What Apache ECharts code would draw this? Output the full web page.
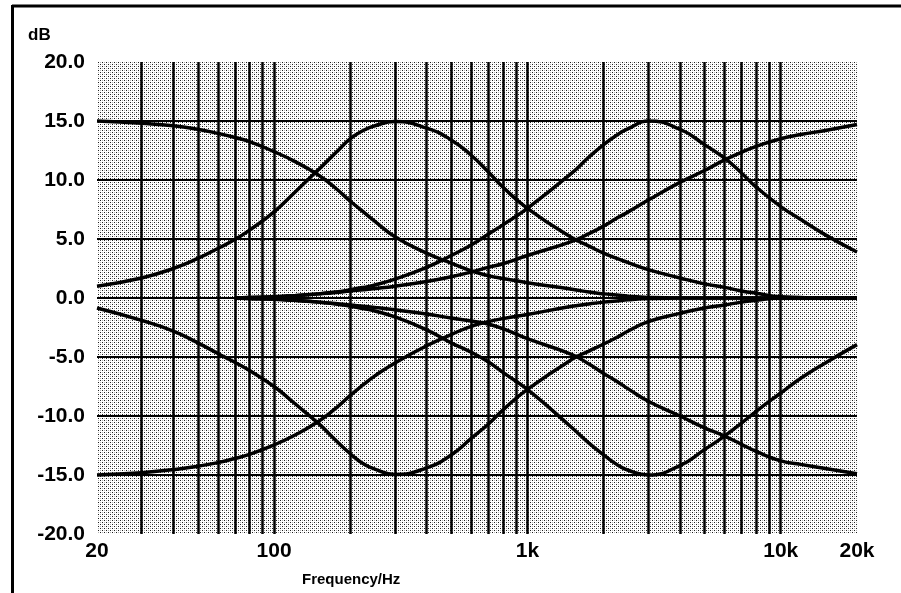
<!DOCTYPE html>
<html>
<head>
<meta charset="utf-8">
<script src="https://cdn.jsdelivr.net/npm/echarts@6/dist/echarts.min.js"></script>
<style>
  html, body { margin: 0; padding: 0; background: #fff; }
  #chart { width: 901px; height: 593px; }
</style>
</head>
<body>
<div id="chart"></div>
<script>
// sample frequencies (Hz) the curves were read at
const freqs = [20, 30, 40, 50, 60, 70, 80, 100, 120, 150, 175, 200, 225, 250, 300, 400, 500, 600, 700, 800,
  1000, 1500, 1750, 2000, 2250, 2500, 3000, 4000, 5000, 6000, 7000, 8000, 10000, 12000, 15000, 20000]

// boost curves (dB)
const lowShelfBoost = [15.0, 14.8, 14.6, 14.3, 13.95, 13.6, 13.25, 12.4, 11.6, 10.4, 9.3, 8.2, 7.3, 6.5, 5.2, 3.8, 2.95, 2.3, 1.9, 1.65,
  1.3, 0.75, 0.5, 0.35, 0.25, 0.15, 0.05, 0, 0, 0, 0, 0, 0, 0, 0, 0]
const peak300Boost = [1.0, 1.7, 2.5, 3.35, 4.2, 4.95, 5.75, 7.3, 8.9, 10.9, 12.3, 13.5, 14.2, 14.6, 14.95, 14.4, 13.4, 12.1, 10.7, 9.4,
  7.6, 5.1, 4.4, 3.8, 3.35, 3.0, 2.4, 1.7, 1.2, 0.9, 0.6, 0.4, 0.1, 0.05, 0, 0]
const highShelfBoost = [null, null, null, null, null, 0, 0.05, 0.1, 0.2, 0.35, 0.47, 0.6, 0.7, 0.8, 1.0, 1.4, 1.8, 2.2, 2.6, 2.9,
  3.6, 4.8, 5.45, 6.1, 6.75, 7.3, 8.3, 9.8, 10.8, 11.7, 12.35, 12.85, 13.5, 13.85, 14.2, 14.7]
const peak3kBoost = [null, null, null, null, null, 0, 0.05, 0.1, 0.2, 0.35, 0.5, 0.7, 0.9, 1.1, 1.6, 2.6, 3.6, 4.5, 5.4, 6.2,
  7.6, 10.6, 11.95, 13.0, 13.8, 14.35, 15.0, 14.3, 13.0, 11.85, 10.6, 9.4, 7.75, 6.65, 5.35, 3.9]

// cut curves (dB)
const peak300Cut = [-0.85, -1.9, -2.8, -3.8, -4.7, -5.45, -6.15, -7.5, -8.9, -10.65, -12.05, -13.2, -14.05, -14.5, -14.95, -14.4, -13.3, -11.9, -10.7, -9.5,
  -7.75, -5.2, -4.5, -3.9, -3.35, -2.8, -2.0, -1.3, -0.85, -0.6, -0.35, -0.2, 0, 0, 0, 0]
const lowShelfCut = [-15.0, -14.8, -14.55, -14.25, -13.95, -13.6, -13.25, -12.45, -11.65, -10.45, -9.35, -8.25, -7.35, -6.6, -5.5, -4.05, -3.1, -2.4, -2.0, -1.75,
  -1.4, -0.7, -0.5, -0.35, -0.25, -0.15, -0.05, 0, 0, 0, 0, 0, 0, 0, 0, 0]
const peak3kCut = [null, null, null, null, null, 0, -0.05, -0.1, -0.2, -0.35, -0.5, -0.7, -0.9, -1.1, -1.6, -2.7, -3.8, -4.6, -5.4, -6.3,
  -7.75, -11.0, -12.3, -13.3, -14.1, -14.6, -15.0, -14.2, -12.85, -11.7, -10.6, -9.6, -8.05, -6.8, -5.5, -3.95]
const highShelfCut = [null, null, null, null, null, 0, -0.05, -0.1, -0.2, -0.35, -0.47, -0.6, -0.7, -0.8, -1.0, -1.35, -1.7, -1.95, -2.2, -2.6,
  -3.45, -4.8, -5.6, -6.4, -7.05, -7.7, -8.75, -10.0, -11.0, -11.7, -12.4, -13.0, -13.8, -14.1, -14.45, -14.9]

// vertical grid lines and axis labels
const gridFreqs = [30, 40, 50, 60, 70, 80, 90, 100, 200, 300, 400, 500, 600, 700, 800, 900,
  1000, 2000, 3000, 4000, 5000, 6000, 7000, 8000, 9000, 10000]
const xLabelFreqs = [20, 100, 1000, 10000, 20000]

const curves = [lowShelfBoost, peak300Boost, highShelfBoost, peak3kBoost, peak300Cut, lowShelfCut, peak3kCut, highShelfCut]

const FONT = 'Liberation Sans, Arial, Helvetica, sans-serif'

// halftone-ish dots for the plot background
function makeStipple() {
  const c = document.createElement('canvas')
  c.width = 4
  c.height = 4
  const g = c.getContext('2d')
  g.fillStyle = '#ffffff'
  g.fillRect(0, 0, 4, 4)
  g.fillStyle = '#1e1e1e'
  g.fillRect(0, 0, 1, 1)
  g.fillRect(2, 2, 1, 1)
  g.fillStyle = '#b4b4b4'
  g.fillRect(2, 0, 1, 1)
  g.fillRect(0, 2, 1, 1)
  return c
}

function toPairs(arr) {
  const res = []
  arr.forEach((v, i) => {
    if (v !== null) res.push([freqs[i], v])
  })
  return res
}

const series = curves.map(arr => ({
  type: 'line',
  data: toPairs(arr),
  smooth: 0.5,
  showSymbol: false,
  silent: true,
  z: 3,
  lineStyle: { color: '#000', width: 3.5 }
}))

// vertical frequency lines
series.push({
  type: 'line',
  data: [],
  silent: true,
  z: 2,
  markLine: {
    silent: true,
    symbol: 'none',
    label: { show: false },
    lineStyle: { color: '#000', width: 2.5, type: 'solid' },
    data: gridFreqs.map(f => ({ xAxis: f }))
  }
})

const chart = echarts.init(document.getElementById('chart'), null, { renderer: 'canvas' })

const option = {
  animation: false,
  backgroundColor: '#fff',
  title: [
    { text: 'dB', left: 23, top: 22, textStyle: { fontFamily: FONT, fontWeight: 'bold', fontSize: 17, color: '#000' } },
    { text: 'Frequency/Hz', left: 297, top: 567, textStyle: { fontFamily: FONT, fontWeight: 'bold', fontSize: 15, color: '#000' } }
  ],
  grid: {
    left: 97,
    right: 44,
    top: 62,
    bottom: 59,
    show: true,
    borderWidth: 0,
    backgroundColor: { image: makeStipple(), repeat: 'repeat' }
  },
  xAxis: {
    type: 'log',
    logBase: 10,
    min: 20,
    max: 20000,
    axisLine: { show: false },
    axisTick: { show: false },
    splitLine: { show: false },
    axisLabel: {
      customValues: xLabelFreqs,
      margin: 7,
      fontFamily: FONT,
      fontWeight: 'bold',
      fontSize: 21,
      color: '#000',
      formatter: v => {
        const n = Math.round(v)
        return n >= 1000 ? (n / 1000) + 'k' : String(n)
      }
    }
  },
  yAxis: {
    type: 'value',
    min: -20,
    max: 20,
    interval: 5,
    axisLine: { show: false },
    axisTick: { show: false },
    splitLine: {
      show: true,
      showMinLine: false,
      showMaxLine: false,
      lineStyle: { color: '#000', width: 2 }
    },
    axisLabel: {
      margin: 12,
      fontFamily: FONT,
      fontWeight: 'bold',
      fontSize: 21,
      color: '#000',
      formatter: v => v.toFixed(1)
    }
  },
  graphic: [
    { type: 'line', shape: { x1: 12, y1: 6, x2: 901, y2: 6 }, style: { stroke: '#000', lineWidth: 3 } },
    { type: 'line', shape: { x1: 12.5, y1: 5, x2: 12.5, y2: 593 }, style: { stroke: '#000', lineWidth: 3 } }
  ],
  series: series
}

chart.setOption(option)
</script>
</body>
</html>
